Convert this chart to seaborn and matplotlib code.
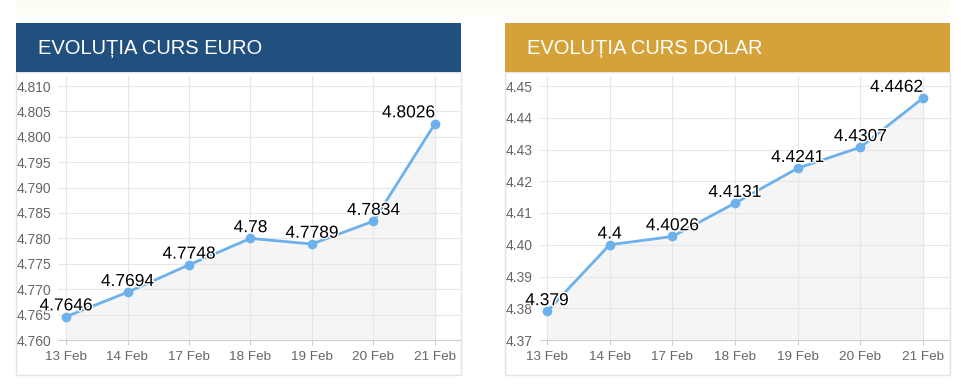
import numpy as np
import pandas as pd
import matplotlib
matplotlib.use("Agg")
import matplotlib.pyplot as plt
import matplotlib.patheffects as pe
import seaborn as sns
from matplotlib.patches import Rectangle

dates = ["13 Feb", "14 Feb", "17 Feb", "18 Feb", "19 Feb", "20 Feb", "21 Feb"]
euro_values = [4.7646, 4.7694, 4.7748, 4.78, 4.7789, 4.7834, 4.8026]
dolar_values = [4.379, 4.4, 4.4026, 4.4131, 4.4241, 4.4307, 4.4462]
euro_ticks = [4.760, 4.765, 4.770, 4.775, 4.780, 4.785, 4.790, 4.795, 4.800, 4.805, 4.810]
dolar_ticks = [4.37, 4.38, 4.39, 4.40, 4.41, 4.42, 4.43, 4.44, 4.45]
titles = ["EVOLUȚIA CURS EURO", "EVOLUȚIA CURS DOLAR"]

sns.set_theme(style="white")
plt.rcParams["font.family"] = ["Liberation Sans", "DejaVu Sans"]

W, H = 970, 392
fig = plt.figure(figsize=(W / 100, H / 100), dpi=100)
fig.patch.set_facecolor("white")


def fx(x):
    return x / W


def fy(y):
    return 1 - y / H


def rect(x0, y0, x1, y1, **kw):
    fig.patches.append(Rectangle((fx(x0), fy(y1)), fx(x1) - fx(x0), fy(y0) - fy(y1),
                                 transform=fig.transFigure, zorder=-10, **kw))


# top cream strip
rect(16, 0, 950, 15, facecolor="#fefdf5", edgecolor="none")

LINE = "#6db1ec"
GRID = "#e6e6e6"

panels = [
    dict(values=euro_values, ticks=euro_ticks, fmt="{:.3f}", title=titles[0],
         color="#214f7e", box=(16, 461), plot=(58, 460), p0=66, p6=435,
         yr=(4.760, 4.810), pad_px=41),
    dict(values=dolar_values, ticks=dolar_ticks, fmt="{:.2f}", title=titles[1],
         color="#d4a238", box=(505, 950), plot=(540, 949), p0=547, p6=923,
         yr=(4.37, 4.45), pad_px=34),
]

top_px, bot_px = 76, 340
for p in panels:
    bx0, bx1 = p["box"]
    # panel border
    rect(bx0, 72, bx1, 375, facecolor="white", edgecolor="#e4e4e4", linewidth=1)
    # banner
    rect(bx0, 23, bx1, 72, facecolor=p["color"], edgecolor="none")
    fig.text(fx(bx0 + 22), fy(48.5), p["title"], color="white", fontsize=14.5,
             ha="left", va="center")

    px0, px1 = p["plot"]
    ax = fig.add_axes([fx(px0), fy(bot_px), fx(px1) - fx(px0), fy(top_px) - fy(bot_px)])
    ax.set_facecolor("none")
    ax.set_zorder(2)
    idx = np.arange(len(dates))
    df = pd.DataFrame({"x": idx, "y": p["values"]})

    unit = (p["p6"] - p["p0"]) / 6
    xl = -(p["p0"] - px0) / unit
    xr = 6 + (px1 - p["p6"]) / unit
    y0, y1 = p["yr"]
    ytop = y1 + (86 - top_px) / (bot_px - 86) * (y1 - y0)

    ax.fill_between(idx, p["values"], y0, color="#f5f5f5", zorder=1, linewidth=0)
    sns.lineplot(data=df, x="x", y="y", ax=ax, color=LINE, linewidth=2.0,
                 marker="o", markersize=7, markeredgewidth=0, markeredgecolor=LINE,
                 zorder=3)
    n = len(p["values"])
    for i, v in enumerate(p["values"]):
        last = i == n - 1
        ax.annotate(f"{v:g}", (i, v), xytext=(0 if last else 0, 4.5),
                    textcoords="offset points",
                    ha="right" if last else "center", va="baseline",
                    fontsize=12.5, color="black",
                    zorder=5, annotation_clip=False,
                    path_effects=[pe.withStroke(linewidth=2, foreground="white")])

    ax.set_xlim(xl, xr)
    ax.set_ylim(y0, ytop)
    ax.set_xticks(idx)
    ax.set_xticklabels(dates)
    ax.set_yticks(p["ticks"])
    ax.set_yticklabels([p["fmt"].format(t) for t in p["ticks"]])
    for lab in ax.get_yticklabels():
        lab.set_horizontalalignment("left")
    ax.tick_params(axis="y", length=0, pad=p["pad_px"] * 0.72, labelsize=10,
                   labelcolor="#666666")
    ax.tick_params(axis="x", length=3.6, width=0.8, color="#cccccc", pad=4,
                   labelsize=9.7, labelcolor="#666666", bottom=True)
    ax.grid(True, color=GRID, linewidth=0.8)
    ax.set_axisbelow("line")
    ax.set_xlabel("")
    ax.set_ylabel("")
    for s in ["top", "right", "left"]:
        ax.spines[s].set_visible(False)
    ax.spines["bottom"].set_color("#d0d0d0")
    ax.spines["bottom"].set_linewidth(0.8)

fig.savefig("out.png", dpi=100, facecolor="white")
